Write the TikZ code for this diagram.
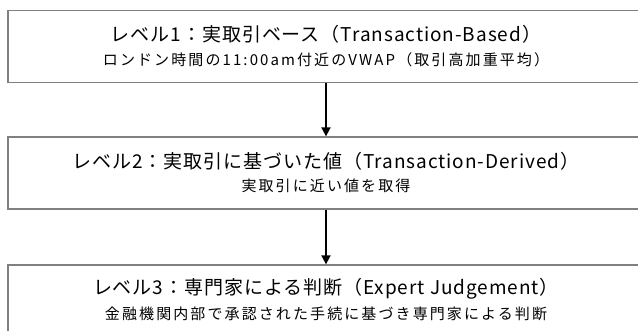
\documentclass[tikz,border=0pt]{standalone}
\usepackage{fontspec}
\setmainfont{Noto Sans CJK JP}
\newfontfamily\ttlfont[LetterSpace=5]{Noto Sans CJK JP}
\newfontfamily\subfont[LetterSpace=14]{Noto Sans CJK JP}
\usetikzlibrary{arrows.meta}
\tikzset{
  levelbox/.style={draw=black!50, line width=1.3pt, minimum width=636pt, minimum height=72pt, inner sep=0pt},
  ttl/.style={font=\ttlfont\fontsize{19}{22}\selectfont, inner sep=0pt},
  sub/.style={font=\subfont\fontsize{15}{18}\selectfont, inner sep=0pt},
  flow/.style={-{Triangle[length=9pt,width=9pt]}, line width=1.8pt, black}
}
\begin{document}
\begin{tikzpicture}[x=1pt,y=-1pt]
\useasboundingbox (0,0) rectangle (638,331);
\node[levelbox] (b1) at (326,46.5) {};
\node[levelbox] (b2) at (326,173) {};
\node[levelbox] (b3) at (326,301) {};
\node[ttl] (t1) at ([yshift=12pt]b1.center) {レベル1：実取引ベース（Transaction-Based）};
\node[sub] (s1) at ([yshift=-13pt]b1.center) {ロンドン時間の11:00am付近のVWAP（取引高加重平均）};
\node[ttl] (t2) at ([yshift=12pt]b2.center) {レベル2：実取引に基づいた値（Transaction-Derived）};
\node[sub] (s2) at ([yshift=-13pt]b2.center) {実取引に近い値を取得};
\node[ttl] (t3) at ([yshift=12pt]b3.center) {レベル3：専門家による判断（Expert Judgement）};
\node[sub] (s3) at ([yshift=-13pt]b3.center) {金融機関内部で承認された手続に基づき専門家による判断};
\draw[flow] (b1.south) -- (b2.north);
\draw[flow] (b2.south) -- (b3.north);
\end{tikzpicture}
\end{document}
